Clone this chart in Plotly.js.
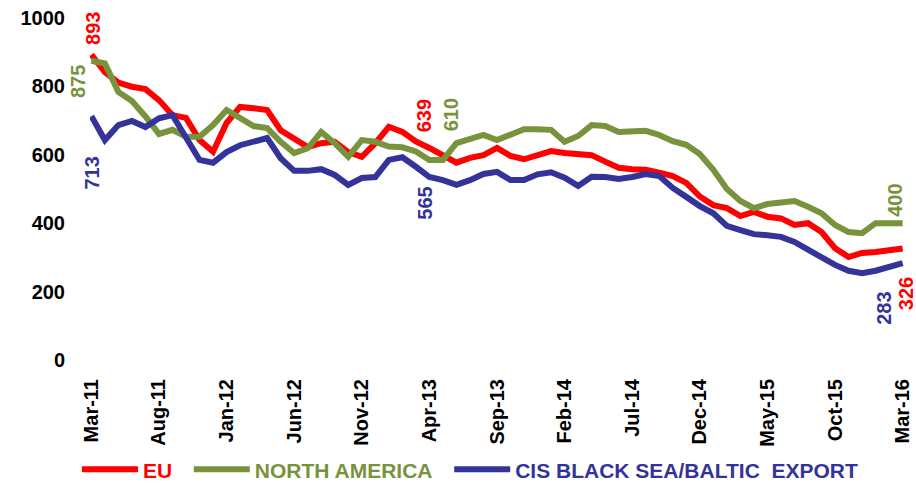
<!DOCTYPE html>
<html>
<head>
<meta charset="utf-8">
<script src="https://cdn.plot.ly/plotly-3.0.1.min.js"></script>
<style>html,body{margin:0;padding:0;background:#fff}#chart{width:916px;height:484px}</style>
</head>
<body>
<div id="chart"></div>
<script>
var months = ["Mar-11","Apr-11","May-11","Jun-11","Jul-11","Aug-11","Sep-11","Oct-11","Nov-11","Dec-11",
"Jan-12","Feb-12","Mar-12","Apr-12","May-12","Jun-12","Jul-12","Aug-12","Sep-12","Oct-12",
"Nov-12","Dec-12","Jan-13","Feb-13","Mar-13","Apr-13","May-13","Jun-13","Jul-13","Aug-13",
"Sep-13","Oct-13","Nov-13","Dec-13","Jan-14","Feb-14","Mar-14","Apr-14","May-14","Jun-14",
"Jul-14","Aug-14","Sep-14","Oct-14","Nov-14","Dec-14","Jan-15","Feb-15","Mar-15","Apr-15",
"May-15","Jun-15","Jul-15","Aug-15","Sep-15","Oct-15","Nov-15","Dec-15","Jan-16","Feb-16","Mar-16"];

var tickLabels = ["Mar-11","Aug-11","Jan-12","Jun-12","Nov-12","Apr-13","Sep-13","Feb-14","Jul-14","Dec-14","May-15","Oct-15","Mar-16"];

var eu = [893,842,811,799,792,760,716,708,643,609,
693,740,736,731,672,649,623,634,638,608,
594,634,682,667,639,620,599,577,591,599,
620,597,587,597,611,605,604,599,580,562,
558,556,548,538,518,478,453,444,421,433,
419,414,395,400,374,327,301,313,316,319,326];

var northAmerica = [875,867,784,757,712,661,673,653,653,687,
731,707,684,678,638,605,619,667,634,594,
643,638,624,622,610,585,585,634,645,658,
643,661,675,675,673,638,655,687,684,667,
670,670,658,640,629,602,556,500,465,444,
456,462,465,448,429,395,374,371,400,400,400];

var cis = [713,643,687,699,681,707,716,653,585,577,
608,628,637,649,590,553,553,558,541,512,
532,535,585,593,565,535,526,512,526,544,
550,526,526,543,549,533,509,536,535,529,
535,544,538,503,477,450,429,392,380,368,
365,360,345,322,298,278,261,254,261,271,283];

var seriesNames = ["EU","NORTH AMERICA","CIS BLACK SEA/BALTIC&nbsp; EXPORT"];
var seriesColors = ["#FF0000","#77933C","#333399"];
var seriesData = [eu, northAmerica, cis];

// labelled points: [series index, month index]
var labelPoints = [[0,0],[1,0],[2,0],[0,24],[1,24],[2,24],[1,60],[2,60],[0,60]];
var labelShifts = [[1,26],[-14,-21],[1,-57],[9,26],[36,37],[9,-36],[-7,23],[-18,-45],[3,-45]];

var FONT = "Liberation Sans, Arial, sans-serif";

var traces = seriesData.map(function(d, i){
  return {
    x: months, y: d, type: "scatter", mode: "lines",
    name: '<span style="color:' + seriesColors[i] + '">' + seriesNames[i] + '</span>&nbsp;&nbsp;',
    line: {color: seriesColors[i], width: 6, shape: "linear"},
    cliponaxis: false
  };
});

var annotations = labelPoints.map(function(p, k){
  var v = seriesData[p[0]][p[1]];
  return {
    x: p[1], y: v, xref: "x", yref: "y",
    text: String(v), showarrow: false, textangle: -90,
    xanchor: "center", yanchor: "middle",
    xshift: labelShifts[k][0], yshift: labelShifts[k][1],
    font: {family: FONT, size: 20, color: seriesColors[p[0]], weight: "bold"}
  };
});

var layout = {
  width: 916, height: 484,
  margin: {l: 90, r: 12, t: 18, b: 124},
  paper_bgcolor: "#fff", plot_bgcolor: "#fff",
  hovermode: false,
  showlegend: true,
  xaxis: {
    type: "category", range: [-0.1, 60.1],
    tickmode: "array", tickvals: tickLabels, ticktext: tickLabels,
    tickangle: -90, showgrid: false, zeroline: false, showline: false,
    ticks: "", ticklabelstandoff: 14,
    tickfont: {family: FONT, size: 20, color: "#000", weight: "bold"}
  },
  yaxis: {
    range: [0, 1000], tickvals: [0,200,400,600,800,1000],
    showgrid: false, zeroline: false, showline: false, ticks: "",
    ticklabelstandoff: 24,
    tickfont: {family: FONT, size: 20, color: "#000", weight: "bold"}
  },
  legend: {
    orientation: "h", xref: "container", yref: "container",
    x: 0.084, y: 0.072, xanchor: "left", yanchor: "top",
    itemwidth: 56, tracegroupgap: 0,
    font: {family: FONT, size: 21, weight: "bold"}
  },
  annotations: annotations
};

Plotly.newPlot("chart", traces, layout, {displayModeBar: false, staticPlot: true});
</script>
</body>
</html>
